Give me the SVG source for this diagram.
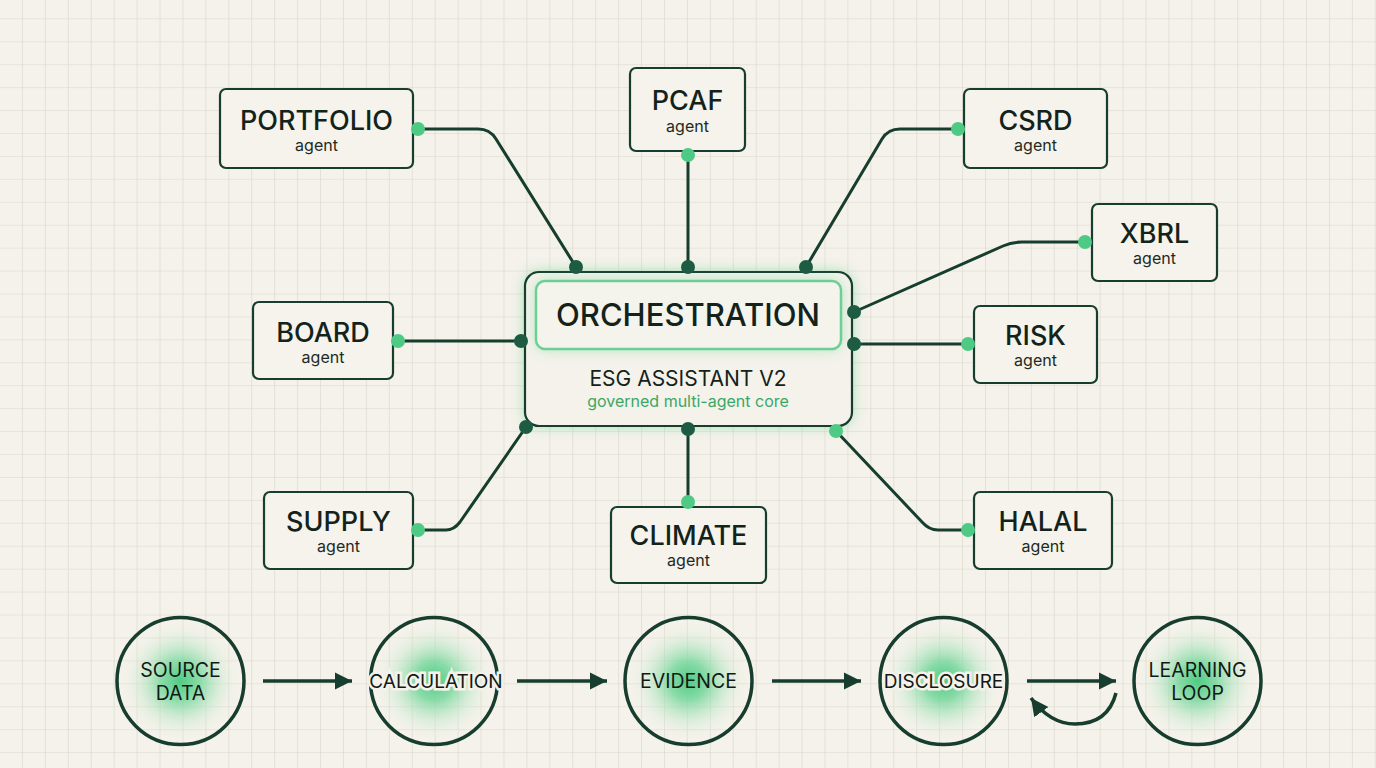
<svg xmlns="http://www.w3.org/2000/svg" width="1376" height="768" viewBox="0 0 1376 768">
<defs>
<pattern id="grid" patternUnits="userSpaceOnUse" x="0" y="-3.6" width="22.93" height="22.93">
<path d="M22.93 0 V22.93 M0 22.93 H22.93" fill="none" stroke="#dad6ca" stroke-width="1.2"/>
</pattern>
<radialGradient id="glow">
<stop offset="0" stop-color="#4fcb84"/>
<stop offset="0.3" stop-color="#6fd597" stop-opacity="0.8"/>
<stop offset="0.65" stop-color="#b5e6c4" stop-opacity="0.35"/>
<stop offset="0.95" stop-color="#f4f2ea" stop-opacity="0"/>
</radialGradient>
<filter id="blur" x="-20%" y="-40%" width="140%" height="180%"><feGaussianBlur stdDeviation="7"/></filter>
<marker id="arr" viewBox="0 0 10 10" refX="10" refY="5" markerWidth="5" markerHeight="6" markerUnits="strokeWidth" orient="auto">
<path d="M0 0 L10 5 L0 10 Z" fill="#163d2e"/>
</marker>
<style>
.box{fill:#f5f3eb;stroke:#163d2e;stroke-width:2.2}
.t{font-family:Inter,"Liberation Sans",sans-serif;font-size:27px;fill:#13231b;text-anchor:middle;font-weight:500}
.s{font-family:Inter,"Liberation Sans",sans-serif;font-size:16px;fill:#1d2b24;text-anchor:middle}
.c{fill:none;stroke:#163d2e;stroke-width:3;stroke-linecap:round;stroke-linejoin:round}
.dl{fill:#4fca84}
.dd{fill:#1d5c43}
.ring{fill:url(#glow);stroke:#163d2e;stroke-width:3.5}
.ct{font-family:Inter,"Liberation Sans",sans-serif;font-size:19.5px;fill:#111a15;text-anchor:middle}
.a{fill:none;stroke:#163d2e;stroke-width:3.5}
</style>
</defs>
<rect width="1376" height="768" fill="#f4f2ea"/>
<rect width="1376" height="768" fill="url(#grid)"/>

<g id="connectors">
<path class="c" d="M418 129 H478 Q490 129 496 139 L576 267"/>
<path class="c" d="M688 155 V267"/>
<path class="c" d="M958 129 H900 Q888 129 882 139 L806 267"/>
<path class="c" d="M1085 242 H1022 Q1012 242 1003 246 L854 312"/>
<path class="c" d="M968 344 H854"/>
<path class="c" d="M398 341 H521"/>
<path class="c" d="M418 530 H446 Q454 530 460 522 L526 427"/>
<path class="c" d="M688 429 V502"/>
<path class="c" d="M836 431 L922 522 Q929 530 938 530 H968"/>
</g>

<g id="orchestration">
<rect x="525" y="272" width="327" height="154" rx="14" fill="#5fd08e" opacity="0.55" filter="url(#blur)"/>
<rect x="525" y="272" width="327" height="154" rx="14" fill="#f4f2ea" stroke="#163d2e" stroke-width="2.2"/>
<rect x="536" y="281" width="305" height="68" rx="9" fill="#7fdaa3" opacity="0.6" filter="url(#blur)"/>
<rect x="536" y="281" width="305" height="68" rx="9" fill="#f4f3ec" stroke="#6ccf95" stroke-width="2.5"/>
<text x="688" y="326" class="t" style="font-size:31px">ORCHESTRATION</text>
<text x="688" y="386" class="t" style="font-size:21px;font-weight:400">ESG ASSISTANT V2</text>
<text x="688" y="407" class="s" style="fill:#3aa865;font-size:16px">governed multi-agent core</text>
<circle class="dd" cx="576" cy="267" r="7"/>
<circle class="dd" cx="688" cy="267" r="7"/>
<circle class="dd" cx="806" cy="267" r="7"/>
<circle class="dd" cx="854" cy="312" r="7"/>
<circle class="dd" cx="854" cy="344" r="7"/>
<circle class="dd" cx="521" cy="341" r="7"/>
<circle class="dd" cx="526" cy="427" r="7"/>
<circle class="dd" cx="688" cy="429" r="7"/>
<circle class="dl" cx="836" cy="431" r="7"/>
</g>

<g id="portfolio">
<rect class="box" x="220" y="89" width="193" height="79" rx="6"/>
<text class="t" x="316.5" y="130">PORTFOLIO</text>
<text class="s" x="316.5" y="151">agent</text>
<circle class="dl" cx="418" cy="129" r="7"/>
</g>
<g id="pcaf">
<rect class="box" x="630" y="68" width="115" height="83" rx="6"/>
<text class="t" x="687.5" y="110">PCAF</text>
<text class="s" x="687.5" y="132">agent</text>
<circle class="dl" cx="688" cy="155" r="7"/>
</g>
<g id="csrd">
<rect class="box" x="964" y="89" width="143" height="79" rx="6"/>
<text class="t" x="1035.5" y="130">CSRD</text>
<text class="s" x="1035.5" y="151">agent</text>
<circle class="dl" cx="958" cy="129" r="7"/>
</g>
<g id="xbrl">
<rect class="box" x="1092" y="204" width="125" height="77" rx="6"/>
<text class="t" x="1154.5" y="243">XBRL</text>
<text class="s" x="1154.5" y="264">agent</text>
<circle class="dl" cx="1085" cy="242" r="7"/>
</g>
<g id="risk">
<rect class="box" x="974" y="306" width="123" height="77" rx="6"/>
<text class="t" x="1035.5" y="345">RISK</text>
<text class="s" x="1035.5" y="366">agent</text>
<circle class="dl" cx="968" cy="344" r="7"/>
</g>
<g id="board">
<rect class="box" x="253" y="302" width="140" height="77" rx="6"/>
<text class="t" x="323" y="342">BOARD</text>
<text class="s" x="323" y="363">agent</text>
<circle class="dl" cx="398" cy="341" r="7"/>
</g>
<g id="supply">
<rect class="box" x="264" y="492" width="149" height="77" rx="6"/>
<text class="t" x="338.5" y="531">SUPPLY</text>
<text class="s" x="338.5" y="552">agent</text>
<circle class="dl" cx="418" cy="530" r="7"/>
</g>
<g id="climate">
<rect class="box" x="611" y="507" width="155" height="76" rx="6"/>
<text class="t" x="688.5" y="545">CLIMATE</text>
<text class="s" x="688.5" y="566">agent</text>
<circle class="dl" cx="688" cy="502" r="7"/>
</g>
<g id="halal">
<rect class="box" x="974" y="492" width="138" height="77" rx="6"/>
<text class="t" x="1043" y="531">HALAL</text>
<text class="s" x="1043" y="552">agent</text>
<circle class="dl" cx="968" cy="530" r="7"/>
</g>

<g id="flow-arrows">
<path class="a" d="M263 681 H352" marker-end="url(#arr)"/>
<path class="a" d="M517 681 H607" marker-end="url(#arr)"/>
<path class="a" d="M772 681 H861" marker-end="url(#arr)"/>
<path class="a" d="M1027 681 H1116" marker-end="url(#arr)"/>
<path class="a" d="M1116 693 Q1108 724 1075 724 Q1050 724 1031 698" marker-end="url(#arr)"/>
</g>

<g id="source-data">
<circle class="ring" cx="180.5" cy="681" r="63.5"/>
<text class="ct" x="180.5" y="677">SOURCE</text>
<text class="ct" x="180.5" y="700">DATA</text>
</g>
<g id="calculation">
<circle class="ring" cx="434" cy="681" r="63.5"/>
<text class="ct" x="436" y="688" stroke="#f4f2ea" stroke-width="5" paint-order="stroke" style="font-size:19px">CALCULATION</text>
</g>
<g id="evidence">
<circle class="ring" cx="688.5" cy="681" r="63.5"/>
<text class="ct" x="688.5" y="688">EVIDENCE</text>
</g>
<g id="disclosure">
<circle class="ring" cx="943.5" cy="681" r="63.5"/>
<text class="ct" x="943.5" y="688" stroke="#f4f2ea" stroke-width="5" paint-order="stroke" style="font-size:19px">DISCLOSURE</text>
</g>
<g id="learning-loop">
<circle class="ring" cx="1197.5" cy="681" r="63.5"/>
<text class="ct" x="1197.5" y="677">LEARNING</text>
<text class="ct" x="1197.5" y="700">LOOP</text>
</g>
</svg>
